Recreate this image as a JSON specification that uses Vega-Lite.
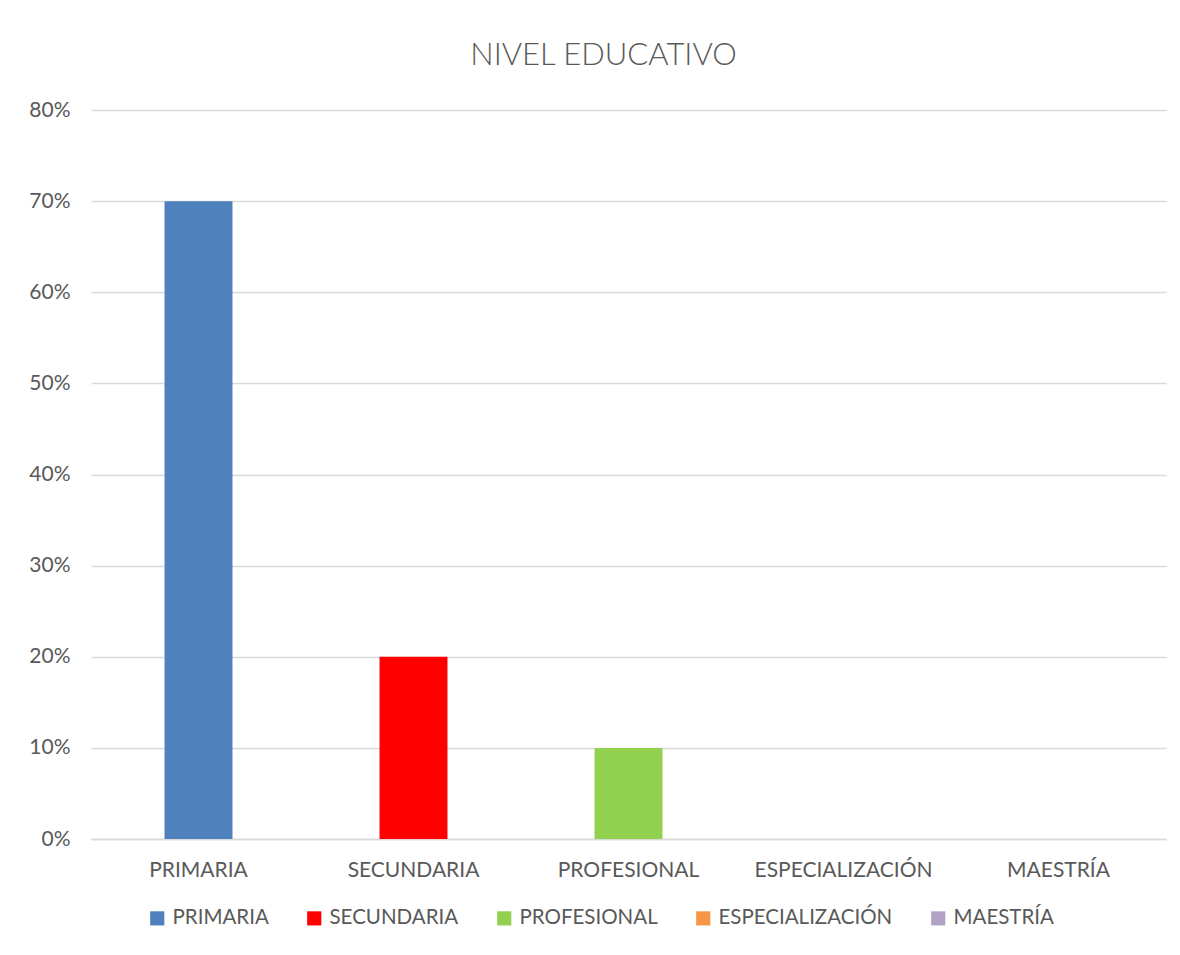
{
  "$schema": "https://vega.github.io/schema/vega-lite/v6.json",
  "width": 1075,
  "height": 729,
  "autosize": {"type": "none"},
  "padding": {"left": 91, "top": 110, "right": 14, "bottom": 116},
  "background": "white",
  "title": {
    "text": "NIVEL EDUCATIVO",
    "fontSize": 31,
    "font": "Lato",
    "fontWeight": 300,
    "color": "#595959",
    "anchor": "middle",
    "offset": 27,
    "dx": -25
  },
  "data": {
    "values": [
      {"nivel": "PRIMARIA", "pct": 0.7},
      {"nivel": "SECUNDARIA", "pct": 0.2},
      {"nivel": "PROFESIONAL", "pct": 0.1},
      {"nivel": "ESPECIALIZACIÓN", "pct": 0},
      {"nivel": "MAESTRÍA", "pct": 0}
    ]
  },
  "mark": {"type": "bar"},
  "encoding": {
    "x": {
      "field": "nivel",
      "type": "nominal",
      "sort": null,
      "scale": {"paddingInner": 0.684, "paddingOuter": 0.342},
      "axis": {
        "title": null,
        "labelAngle": 0,
        "ticks": false,
        "labelPadding": 20,
        "labelFontSize": 21,
        "labelFont": "Lato",
        "labelColor": "#595959",
        "labelLimit": 400,
        "domainColor": "#d9d9d9",
        "domainWidth": 1.5
      }
    },
    "y": {
      "field": "pct",
      "type": "quantitative",
      "scale": {"domain": [0, 0.8]},
      "axis": {
        "title": null,
        "format": ".0%",
        "values": [0, 0.1, 0.2, 0.3, 0.4, 0.5, 0.6, 0.7, 0.8],
        "labelOverlap": false,
        "ticks": false,
        "domain": false,
        "labelPadding": 21,
        "labelFontSize": 21,
        "labelFont": "Lato",
        "labelColor": "#595959",
        "gridColor": "#d9d9d9",
        "gridWidth": 1.5
      }
    },
    "color": {
      "field": "nivel",
      "type": "nominal",
      "sort": null,
      "scale": {
        "domain": ["PRIMARIA", "SECUNDARIA", "PROFESIONAL", "ESPECIALIZACIÓN", "MAESTRÍA"],
        "range": ["#4f81bd", "#ff0000", "#92d050", "#f79646", "#b3a2c7"]
      },
      "legend": {
        "title": null,
        "orient": "none",
        "legendX": 56,
        "legendY": 798,
        "direction": "horizontal",
        "symbolType": "square",
        "symbolSize": 200,
        "symbolStrokeWidth": 0,
        "labelFontSize": 20.5,
        "labelFont": "Lato",
        "labelColor": "#595959",
        "labelLimit": 400,
        "columnPadding": 35,
        "labelOffset": 5
      }
    }
  },
  "config": {
    "view": {"stroke": null}
  }
}
